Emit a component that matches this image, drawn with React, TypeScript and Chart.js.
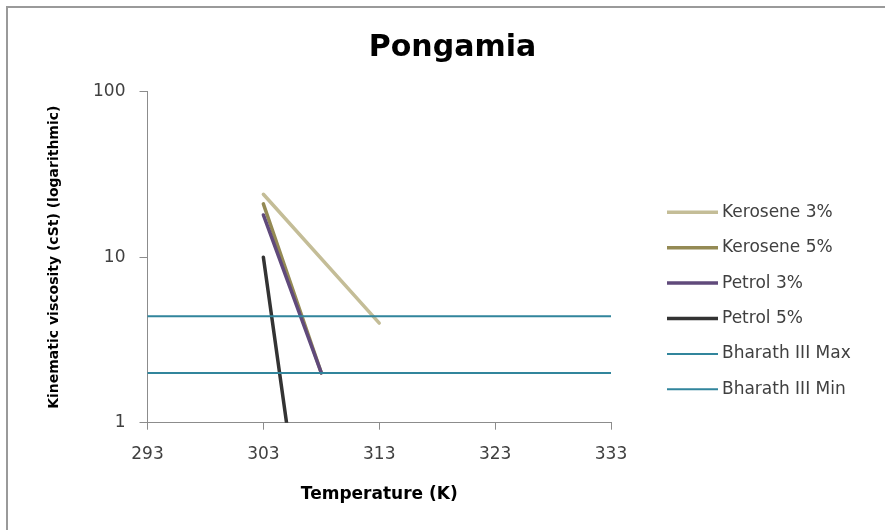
import React, { useEffect, useRef } from "react";
import { Chart, registerables } from "chart.js";

Chart.register(...registerables);

// ---- data ----
const kerosene3Temp = [303, 313];
const kerosene3Visc = [24, 4];
const kerosene5Temp = [303, 308];
const kerosene5Visc = [21, 2];
const petrol3Temp = [303, 308];
const petrol3Visc = [18, 2];
const petrol5Temp = [303, 305];
const petrol5Visc = [10, 1];
const limitTemp = [293, 333];
const bharathMaxVisc = [4.4, 4.4];
const bharathMinVisc = [2, 2];

const chartTitle = "Pongamia";
const seriesLabels = [
  "Kerosene 3%",
  "Kerosene 5%",
  "Petrol 3%",
  "Petrol 5%",
  "Bharath III Max",
  "Bharath III Min",
];
const seriesColors = ["#C4BD97", "#948A54", "#604A7B", "#333333", "#31859C", "#31859C"];
const xTickValues = [293, 303, 313, 323, 333];
const yTickValues = [1, 10, 100];

const FONT = "'DejaVu Sans', sans-serif";

function toPoints(xs: number[], ys: number[]) {
  return xs.map((x, i) => ({ x, y: ys[i] }));
}

const framePlugin = {
  id: "frame",
  beforeDraw(chart: any) {
    const ctx = chart.ctx;
    ctx.save();
    ctx.fillStyle = "#ffffff";
    ctx.fillRect(0, 0, chart.width, chart.height);
    ctx.strokeStyle = "#9a9a9a";
    ctx.lineWidth = 2;
    ctx.beginPath();
    ctx.moveTo(7, chart.height);
    ctx.lineTo(7, 7);
    ctx.lineTo(chart.width, 7);
    ctx.stroke();
    ctx.restore();
  },
};

const headTitlePlugin = {
  id: "headTitle",
  afterDraw(chart: any, _args: any, opts: any) {
    const ctx = chart.ctx;
    ctx.save();
    ctx.fillStyle = opts.color;
    ctx.font = opts.font;
    ctx.textAlign = "center";
    ctx.textBaseline = "middle";
    ctx.fillText(opts.text, opts.x, opts.y);
    ctx.restore();
  },
};

const sideLegendPlugin = {
  id: "sideLegend",
  afterDraw(chart: any, _args: any, opts: any) {
    const ctx = chart.ctx;
    chart.data.datasets.forEach((ds: any, i: number) => {
      const cy = opts.y + i * opts.spacing;
      ctx.save();
      ctx.strokeStyle = ds.borderColor;
      ctx.lineWidth = ds.borderWidth;
      ctx.lineCap = "butt";
      ctx.beginPath();
      ctx.moveTo(opts.x, cy);
      ctx.lineTo(opts.x + opts.lineLength, cy);
      ctx.stroke();
      ctx.fillStyle = opts.color;
      ctx.font = opts.font;
      ctx.textBaseline = "middle";
      ctx.textAlign = "left";
      ctx.fillText(ds.label, opts.x + opts.lineLength + opts.gap, cy);
      ctx.restore();
    });
  },
};

export default function App() {
  const canvasRef = useRef<HTMLCanvasElement | null>(null);

  useEffect(() => {
    if (!canvasRef.current) return;
    const xs = [kerosene3Temp, kerosene5Temp, petrol3Temp, petrol5Temp, limitTemp, limitTemp];
    const ys = [kerosene3Visc, kerosene5Visc, petrol3Visc, petrol5Visc, bharathMaxVisc, bharathMinVisc];
    const datasets = seriesLabels.map((label, i) => ({
      label,
      data: toPoints(xs[i], ys[i]),
      borderColor: seriesColors[i],
      backgroundColor: seriesColors[i],
      borderWidth: i < 4 ? 3.5 : 2,
      borderCapStyle: "round" as const,
      pointRadius: 0,
      pointHoverRadius: 0,
      tension: 0,
      fill: false,
      order: seriesLabels.length - i,
    }));

    const chart = new Chart(canvasRef.current, {
      type: "line",
      data: { datasets },
      plugins: [framePlugin, headTitlePlugin, sideLegendPlugin],
      options: {
        animation: false,
        responsive: false,
        maintainAspectRatio: false,
        layout: { padding: { left: 20, right: 274, top: 91.7, bottom: 0 } },
        plugins: {
          legend: { display: false },
          tooltip: { enabled: false },
          title: { display: false },
          headTitle: {
            text: chartTitle,
            x: 452.5,
            y: 48.5,
            font: `bold 30px ${FONT}`,
            color: "#000000",
          },
          sideLegend: {
            x: 667,
            y: 212.3,
            spacing: 35.4,
            lineLength: 51,
            gap: 4,
            font: `17px ${FONT}`,
            color: "#404040",
          },
        } as any,
        scales: {
          x: {
            type: "linear",
            min: 293,
            max: 333,
            afterBuildTicks: (scale: any) => {
              scale.ticks = xTickValues.map((v) => ({ value: v }));
            },
            afterFit: (scale: any) => {
              scale.height = 530 - 422.7;
            },
            ticks: {
              color: "#404040",
              font: { family: FONT, size: 17 },
              padding: 15,
              maxRotation: 0,
              callback: (v: any) => String(v),
            },
            grid: {
              display: true,
              drawOnChartArea: false,
              drawTicks: true,
              tickLength: 7,
              color: "#8c8c8c",
            },
            border: { display: true, color: "#8c8c8c", width: 1 },
            title: {
              display: true,
              text: "Temperature (K)",
              color: "#000000",
              font: { family: FONT, size: 17, weight: "bold" },
              padding: { top: 0, bottom: 25 },
            },
          },
          y: {
            type: "logarithmic",
            min: 1,
            max: 100,
            afterBuildTicks: (scale: any) => {
              scale.ticks = yTickValues.map((v) => ({ value: v }));
            },
            afterFit: (scale: any) => {
              scale.width = 147.5 - 20;
            },
            ticks: {
              color: "#404040",
              font: { family: FONT, size: 17 },
              padding: 14,
              callback: (v: any) => String(v),
            },
            grid: {
              display: true,
              drawOnChartArea: false,
              drawTicks: true,
              tickLength: 8,
              color: "#8c8c8c",
            },
            border: { display: true, color: "#8c8c8c", width: 1 },
            title: {
              display: true,
              text: "Kinematic viscosity (cSt) (logarithmic)",
              color: "#000000",
              font: { family: FONT, size: 14, weight: "bold" },
              padding: { top: 25.6, bottom: 0 },
            },
          },
        },
      },
    });
    return () => chart.destroy();
  }, []);

  return (
    <div style={{ position: "absolute", left: 0, top: 0, width: 885, height: 530, background: "#fff" }}>
      <canvas ref={canvasRef} width={885} height={530} style={{ width: 885, height: 530, display: "block" }} />
    </div>
  );
}
